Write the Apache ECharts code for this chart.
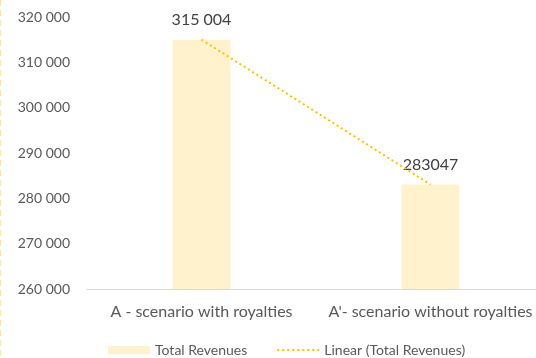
<!DOCTYPE html>
<html>
<head>
<meta charset="utf-8">
<script src="https://cdn.jsdelivr.net/npm/echarts@6/dist/echarts.min.js"></script>
<style>
  html, body { margin: 0; padding: 0; background: #ffffff; }
  #chart { width: 536px; height: 358px; }
</style>
</head>
<body>
<div id="chart"></div>
<script>
// Scenarios compared on the category axis
const categories = ['A - scenario with royalties', "A'- scenario without royalties"];
// Total revenues per scenario
const totalRevenues = [315004, 283047];
// Number style used by each data label (grouped thousands or plain digits)
const labelStyles = ['grouped', 'plain'];
// Value axis range
const yMin = 260000;
const yMax = 320000;
const yStep = 10000;

const FONT = 'Lato, "Liberation Sans", sans-serif';

function grouped(v) {
  return String(v).replace(/\B(?=(\d{3})+(?!\d))/g, ' ');
}

const chart = echarts.init(document.getElementById('chart'), null, { renderer: 'canvas' });

chart.setOption({
  backgroundColor: '#ffffff',
  animation: false,
  textStyle: { fontFamily: FONT },
  grid: { left: 87, width: 458, top: 17, height: 272, containLabel: false, outerBoundsMode: 'none' },
  legend: {
    left: 108,
    top: 343,
    padding: 0,
    itemGap: 29,
    itemWidth: 42,
    itemHeight: 8,
    textStyle: { fontFamily: FONT, fontSize: 14, color: '#595959' },
    data: [
      { name: 'Total Revenues', icon: 'rect' },
      { name: 'Linear (Total Revenues)', itemStyle: { opacity: 0 } }
    ]
  },
  xAxis: {
    type: 'category',
    data: categories,
    axisLine: { lineStyle: { color: '#D9D9D9', width: 1 } },
    axisTick: { show: false },
    axisLabel: { fontFamily: FONT, fontSize: 16, color: '#595959', margin: 15, interval: 0 }
  },
  yAxis: {
    type: 'value',
    min: yMin,
    max: yMax,
    interval: yStep,
    axisLine: { show: false },
    axisTick: { show: false },
    splitLine: { show: false },
    axisLabel: {
      fontFamily: FONT, fontSize: 14, color: '#595959', margin: 17,
      formatter: v => grouped(v)
    }
  },
  series: [
    {
      name: 'Total Revenues',
      type: 'bar',
      data: totalRevenues,
      barWidth: 58,
      itemStyle: { color: '#FFF2CC' },
      z: 2,
      label: {
        show: true,
        position: 'top',
        distance: 12,
        fontFamily: FONT,
        fontSize: 16,
        color: '#404040',
        formatter: p => labelStyles[p.dataIndex] === 'grouped' ? grouped(p.value) : String(p.value)
      }
    },
    {
      name: 'Linear (Total Revenues)',
      type: 'line',
      data: totalRevenues,
      symbol: 'none',
      z: 3,
      itemStyle: { color: '#FFC000' },
      lineStyle: { color: '#FFC000', width: 2, type: [2, 3] }
    }
  ],
  graphic: [
    {
      type: 'line',
      shape: { x1: 0.5, y1: 0, x2: 0.5, y2: 358 },
      style: { stroke: '#FFE699', lineWidth: 1.5, lineDash: [6, 4] },
      silent: true
    }
  ]
});
</script>
</body>
</html>
